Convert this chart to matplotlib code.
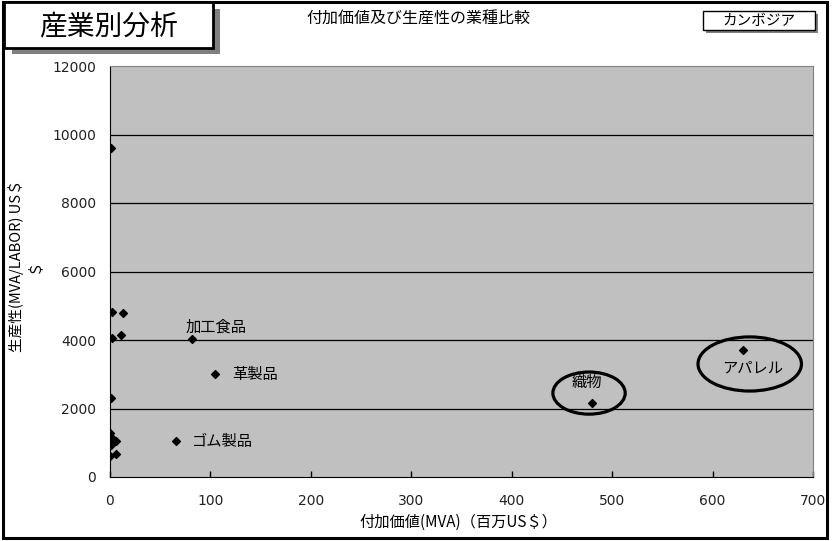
import matplotlib
matplotlib.use("Agg")
import matplotlib.pyplot as plt
import matplotlib.patches as mpatches

plt.rcParams["font.family"] = ["Noto Sans CJK JP", "DejaVu Sans"]

# 付加価値(MVA, 百万US$) と 生産性(MVA/LABOR, US$)
mva = [1, 2, 13, 2, 11, 82, 105, 0.5, 66, 0, 2, 6, 1, 0, 6, 480, 630]
productivity = [9600, 4820, 4800, 4050, 4150, 4020, 3020, 2320, 1040,
                1280, 1130, 1060, 920, 610, 680, 2150, 3700]

# ラベル付きの業種
labels = ["加工食品", "革製品", "ゴム製品", "織物", "アパレル"]
label_x = [75, 122, 82, 475, 640]
label_y = [4380, 2980, 1050, 2750, 3180]
label_ha = ["left", "left", "left", "center", "center"]

xticks = [0, 100, 200, 300, 400, 500, 600, 700]
yticks = [0, 2000, 4000, 6000, 8000, 10000, 12000]

W, H = 832, 541
fig = plt.figure(figsize=(W / 100, H / 100), dpi=100)
fig.patch.set_facecolor("white")


def fx(px):
    return px / W


def fy(py):
    return 1 - py / H


ax = fig.add_axes([fx(110), fy(477), fx(813) - fx(110), fy(66) - fy(477)])
ax.set_facecolor("#c0c0c0")
ax.set_xlim(0, 700)
ax.set_ylim(0, 12000)

for y in yticks[1:-1]:
    ax.axhline(y, color="black", lw=0.9, zorder=1)

ax.scatter(mva, productivity, marker="D", s=16, color="black", zorder=3)

for lab, x, y, ha in zip(labels, label_x, label_y, label_ha):
    ax.text(x, y, lab, ha=ha, va="center", fontsize=11, zorder=4)

# 織物とアパレルを囲む楕円
for cx, cy, w, h in [(477, 2450, 72, 1230), (637, 3300, 103, 1580)]:
    ax.add_patch(mpatches.Ellipse((cx, cy), w, h, fill=False,
                                  edgecolor="black", lw=2.3, zorder=4))

ax.set_xticks(xticks)
ax.set_yticks(yticks)
ax.tick_params(axis="x", direction="in", length=4, width=1, pad=12,
               labelsize=10)
ax.tick_params(axis="y", length=0, pad=10, labelsize=10)
for t in ax.get_xticklabels() + ax.get_yticklabels():
    t.set_family("DejaVu Sans")
    t.set_color("#222222")

ax.spines["left"].set_color("black")
ax.spines["bottom"].set_color("black")
ax.spines["top"].set_color("#808080")
ax.spines["right"].set_color("#808080")

fig.text(fx(458), fy(522), "付加価値(MVA)（百万US＄）", ha="center",
         va="center", fontsize=11)
fig.text(fx(16), fy(266), "生産性(MVA/LABOR) US＄", rotation=90,
         ha="center", va="center", fontsize=10.5)
fig.text(fx(35), fy(266), "＄", rotation=90, ha="center", va="center",
         fontsize=10.5)

# 外枠
fig.patches.append(mpatches.Rectangle((fx(3), fy(538)), fx(827) - fx(3),
                                      fy(2) - fy(538), transform=fig.transFigure,
                                      fill=False, edgecolor="black", lw=2.2,
                                      zorder=5))

# 見出しボックス(影付き)
fig.patches.append(mpatches.Rectangle((fx(12), fy(54)), fx(220) - fx(12),
                                      fy(9) - fy(54), transform=fig.transFigure,
                                      facecolor="#808080", edgecolor="none",
                                      zorder=6))
fig.patches.append(mpatches.Rectangle((fx(4), fy(48)), fx(213) - fx(4),
                                      fy(2) - fy(48), transform=fig.transFigure,
                                      facecolor="white", edgecolor="black",
                                      lw=2.0, zorder=7))
fig.text(fx(109), fy(27), "産業別分析", ha="center", va="center",
         fontsize=20, zorder=8)

fig.text(fx(418), fy(19), "付加価値及び生産性の業種比較", ha="center",
         va="center", fontsize=11.5, zorder=8)

# 国名ボックス
fig.patches.append(mpatches.Rectangle((fx(706), fy(33)), fx(818) - fx(706),
                                      fy(14) - fy(33), transform=fig.transFigure,
                                      facecolor="#808080", edgecolor="none",
                                      zorder=6))
fig.patches.append(mpatches.Rectangle((fx(703), fy(30)), fx(815) - fx(703),
                                      fy(11) - fy(30), transform=fig.transFigure,
                                      facecolor="white", edgecolor="black",
                                      lw=1.0, zorder=7))
fig.text(fx(759), fy(20.5), "カンボジア", ha="center", va="center",
         fontsize=10.5, zorder=8)

fig.savefig("out.png", dpi=100)
